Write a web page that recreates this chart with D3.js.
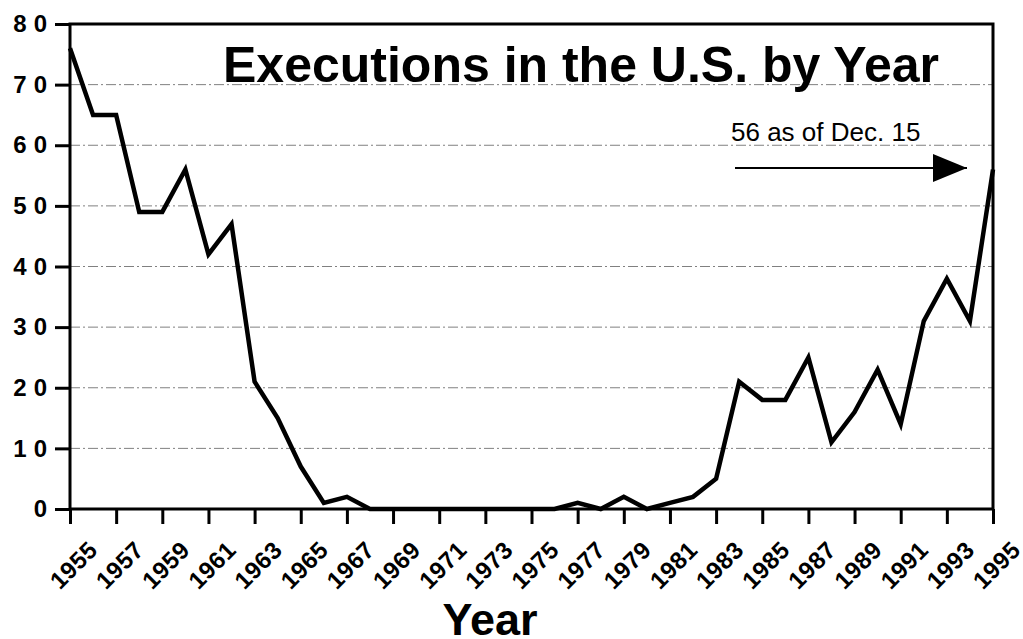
<!DOCTYPE html>
<html lang="en">
<head>
    <meta charset="utf-8">
    <title>Executions in the U.S. by Year</title>
    <script src="https://cdn.jsdelivr.net/npm/d3@7/dist/d3.min.js"></script>
    <style type="text/css">
        body { margin: 0; background: #fff; }
        svg { display: block; font-family: "Liberation Sans", Arial, Helvetica, sans-serif; }
    </style>
</head>
<body>
<script type="text/javascript">
// data
var years = d3.range(1955, 1996);
var executions = [76, 65, 65, 49, 49, 56, 42, 47, 21, 15,
                  7, 1, 2, 0, 0, 0, 0, 0, 0, 0,
                  0, 0, 1, 0, 2, 0, 1, 2, 5, 21,
                  18, 18, 25, 11, 16, 23, 14, 31, 38, 31,
                  56];
var yTicks = [0, 10, 20, 30, 40, 50, 60, 70, 80];
var xTickYears = d3.range(1955, 1996, 2);
var titleText = "Executions in the U.S. by Year";
var xTitle = "Year";
var noteText = "56 as of Dec. 15";

var width = 1023, height = 639;
// plot box (note: "top" is reserved on window, so use other names)
var plotL = 70, plotR = 993, plotT = 24, plotB = 509;

var svg = d3.select("body").append("svg")
    .attr("width", width)
    .attr("height", height);

var x = d3.scaleLinear().domain([1955, 1995]).range([plotL, plotR]);
var y = d3.scaleLinear().domain([0, 80]).range([plotB, plotT]);

// gridlines (dash-dot grey)
svg.append("g")
  .selectAll("line")
  .data(yTicks.filter(function(d){ return d > 0 && d < 80; }))
  .enter().append("line")
  .attr("x1", plotL).attr("x2", plotR)
  .attr("y1", function(d){ return y(d); })
  .attr("y2", function(d){ return y(d); })
  .attr("stroke", "#808080")
  .attr("stroke-width", 1)
  .attr("stroke-dasharray", "10,3,2,3");

// y axis: ticks to the left, spaced-out bold digits
var yAxis = d3.axisLeft(y).tickValues(yTicks).tickSize(15).tickPadding(8);
var gy = svg.append("g").attr("transform", "translate(" + plotL + ",0)").call(yAxis);
gy.select(".domain").remove();
gy.selectAll(".tick line").attr("stroke", "#000").attr("stroke-width", 3);
gy.selectAll(".tick text")
  .attr("x", -16)
  .attr("fill", "#000")
  .style("font-size", "24px")
  .style("font-weight", "bold")
  .style("letter-spacing", "7px");

// x axis: ticks every other year, labels rotated
var xAxis = d3.axisBottom(x).tickValues(xTickYears).tickSize(15).tickFormat(d3.format("d"));
var gx = svg.append("g").attr("transform", "translate(0," + plotB + ")").call(xAxis);
gx.select(".domain").remove();
gx.selectAll(".tick line").attr("stroke", "#000").attr("stroke-width", 3);
gx.selectAll(".tick text")
  .attr("y", 0)
  .attr("dy", null)
  .attr("text-anchor", "middle")
  .attr("dominant-baseline", "central")
  .attr("transform", "translate(3,56) rotate(-45)")
  .attr("fill", "#000")
  .style("font-size", "24px")
  .style("font-weight", "bold")
  .style("letter-spacing", "0.5px");

// frame
svg.append("path")
  .attr("d", "M" + plotL + "," + plotT + "H" + plotR + "V" + plotB + "H" + plotL + "Z")
  .attr("fill", "none")
  .attr("stroke", "#000")
  .attr("stroke-width", 3);

// data line
var line = d3.line()
  .x(function(d, i){ return x(years[i]); })
  .y(function(d){ return y(d); });

svg.append("path")
  .datum(executions)
  .attr("d", line)
  .attr("fill", "none")
  .attr("stroke", "#000")
  .attr("stroke-width", 4.5)
  .attr("stroke-linejoin", "miter");

// title
svg.append("text")
  .attr("x", 223).attr("y", 82)
  .style("font-size", "50px")
  .style("font-weight", "bold")
  .text(titleText);

// annotation + arrow
svg.append("defs").append("marker")
  .attr("id", "head")
  .attr("viewBox", "0 0 34 28")
  .attr("refX", 34).attr("refY", 14)
  .attr("markerWidth", 34).attr("markerHeight", 28)
  .attr("markerUnits", "userSpaceOnUse")
  .attr("orient", "auto")
  .append("path").attr("d", "M0,0L34,14L0,28Z").attr("fill", "#000");

svg.append("text")
  .attr("x", 731).attr("y", 141)
  .style("font-size", "26px")
  .text(noteText);

svg.append("line")
  .attr("x1", 735).attr("x2", 967)
  .attr("y1", 168).attr("y2", 168)
  .attr("stroke", "#000")
  .attr("stroke-width", 2)
  .attr("marker-end", "url(#head)");

// x title
svg.append("text")
  .attr("x", 490).attr("y", 635)
  .attr("text-anchor", "middle")
  .style("font-size", "45px")
  .style("font-weight", "bold")
  .text(xTitle);
</script>
</body>
</html>
